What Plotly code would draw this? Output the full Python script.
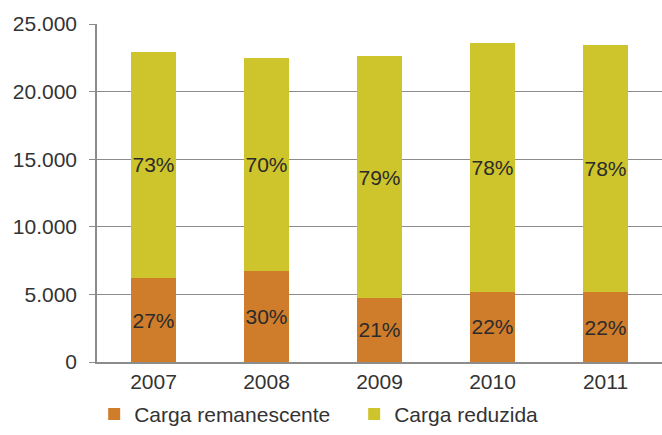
import plotly.graph_objects as go

anos = ["2007", "2008", "2009", "2010", "2011"]
carga_total = [22950, 22450, 22600, 23620, 23470]
pct_remanescente = [27, 30, 21, 22, 22]
pct_reduzida = [73, 70, 79, 78, 78]

carga_remanescente = [t * p / 100 for t, p in zip(carga_total, pct_remanescente)]
carga_reduzida = [t - r for t, r in zip(carga_total, carga_remanescente)]

COR_REMANESCENTE = "#CF7C2B"
COR_REDUZIDA = "#CEC42B"
FONTE = "Liberation Sans, Arial, sans-serif"
TAM = 21

fig = go.Figure()
for valores, pcts, nome, cor in [
    (carga_remanescente, pct_remanescente, "Carga remanescente", COR_REMANESCENTE),
    (carga_reduzida, pct_reduzida, "Carga reduzida", COR_REDUZIDA),
]:
    fig.add_trace(go.Bar(
        x=anos, y=valores, name=nome,
        marker=dict(color=cor, line=dict(width=0)),
        text=[f"{p}%" for p in pcts],
        textposition="inside", insidetextanchor="middle",
        textangle=0, constraintext="none",
        textfont=dict(family=FONTE, size=TAM, color="#2b2b2b"),
    ))

fig.update_layout(
    barmode="stack",
    bargap=0.6,
    width=662, height=435,
    margin=dict(l=97, r=0, t=24, b=68),
    paper_bgcolor="white", plot_bgcolor="white",
    font=dict(family=FONTE, size=TAM, color="#333333"),
    showlegend=True,
    legend=dict(
        orientation="h", x=-0.005, xanchor="left", y=-0.155, yanchor="middle",
        font=dict(family=FONTE, size=TAM, color="#333333"),
        entrywidth=215, entrywidthmode="pixels",
        bgcolor="rgba(0,0,0,0)", traceorder="normal",
    ),
    xaxis=dict(
        showline=True, linecolor="#8c8c8c", linewidth=1.5,
        ticks="", showgrid=False,
        tickfont=dict(family=FONTE, size=TAM, color="#333333"),
    ),
    yaxis=dict(
        range=[0, 25000],
        tickvals=[0, 5000, 10000, 15000, 20000, 25000],
        ticktext=["0", "5.000", "10.000", "15.000", "20.000", "25.000"],
        showgrid=True, gridcolor="#8c8c8c", gridwidth=1.2,
        showline=True, linecolor="#8c8c8c", linewidth=1.5,
        ticks="outside", ticklen=6, tickcolor="#8c8c8c",
        ticklabelstandoff=8,
        zeroline=False,
        tickfont=dict(family=FONTE, size=TAM, color="#333333"),
    ),
)

fig.write_html("out.html")
